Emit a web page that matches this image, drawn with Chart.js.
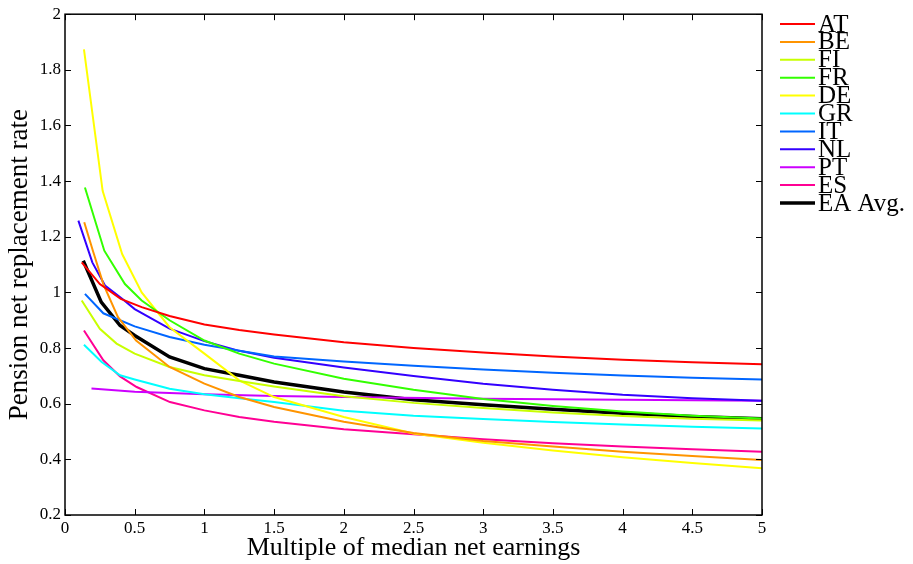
<!DOCTYPE html>
<html>
<head>
<meta charset="utf-8">
<script src="https://cdn.jsdelivr.net/npm/chart.js@4.4.1/dist/chart.umd.min.js"></script>
<style>
  html, body { margin: 0; padding: 0; background: #fff; }
  #wrap { width: 913px; height: 564px; }
</style>
</head>
<body>
<div id="wrap"><canvas id="chart" width="913" height="564"></canvas></div>
<script>
// values, [multiple of median earnings, replacement rate]
var AT = [[0.12, 1.108], [0.25, 1.03], [0.4, 0.977], [0.55, 0.947], [0.75, 0.915], [1, 0.885], [1.25, 0.865], [1.5, 0.849], [2, 0.821], [2.5, 0.80], [3, 0.784], [3.5, 0.77], [4, 0.758], [4.5, 0.749], [5, 0.742]];
var BE = [[0.138, 1.252], [0.2, 1.15], [0.275, 1.03], [0.38, 0.911], [0.51, 0.827], [0.75, 0.732], [1, 0.672], [1.25, 0.624], [1.5, 0.588], [2, 0.535], [2.5, 0.495], [3, 0.466], [3.5, 0.446], [4, 0.427], [4.5, 0.412], [5, 0.398]];
var FI = [[0.12, 0.971], [0.25, 0.869], [0.37, 0.816], [0.5, 0.78], [0.75, 0.732], [1, 0.702], [1.25, 0.682], [1.5, 0.662], [2, 0.627], [2.5, 0.603], [3, 0.585], [3.5, 0.568], [4, 0.556], [4.5, 0.546], [5, 0.54]];
var FR = [[0.143, 1.377], [0.282, 1.15], [0.43, 1.03], [0.55, 0.971], [0.75, 0.9], [1, 0.827], [1.25, 0.78], [1.5, 0.744], [2, 0.69], [2.5, 0.65], [3, 0.617], [3.5, 0.592], [4, 0.572], [4.5, 0.557], [5, 0.547]];
var DE = [[0.136, 1.874], [0.27, 1.365], [0.41, 1.138], [0.55, 1.0], [0.75, 0.875], [1, 0.78], [1.25, 0.684], [1.5, 0.624], [2, 0.552], [2.5, 0.493], [3, 0.46], [3.5, 0.432], [4, 0.408], [4.5, 0.387], [5, 0.368]];
var GR = [[0.136, 0.812], [0.263, 0.75], [0.395, 0.702], [0.5, 0.687], [0.75, 0.654], [1, 0.634], [1.25, 0.62], [1.5, 0.606], [2, 0.575], [2.5, 0.557], [3, 0.545], [3.5, 0.534], [4, 0.525], [4.5, 0.517], [5, 0.511]];
var IT = [[0.143, 0.995], [0.275, 0.925], [0.5, 0.878], [0.75, 0.84], [1, 0.812], [1.25, 0.79], [1.5, 0.77], [2, 0.752], [2.5, 0.736], [3, 0.723], [3.5, 0.711], [4, 0.701], [4.5, 0.693], [5, 0.687]];
var NL = [[0.096, 1.258], [0.196, 1.108], [0.287, 1.025], [0.41, 0.977], [0.5, 0.94], [0.75, 0.87], [1, 0.825], [1.25, 0.79], [1.5, 0.765], [2, 0.73], [2.5, 0.70], [3, 0.672], [3.5, 0.65], [4, 0.632], [4.5, 0.62], [5, 0.611]];
var PT = [[0.19, 0.655], [0.5, 0.643], [1, 0.634], [1.5, 0.628], [2, 0.624], [3, 0.618], [4, 0.614], [5, 0.611]];
var ES = [[0.136, 0.863], [0.275, 0.756], [0.395, 0.698], [0.514, 0.66], [0.753, 0.606], [1, 0.576], [1.25, 0.552], [1.5, 0.535], [2, 0.508], [2.5, 0.49], [3, 0.472], [3.5, 0.458], [4, 0.446], [4.5, 0.436], [5, 0.427]];
var EA = [[0.131, 1.114], [0.26, 0.965], [0.395, 0.881], [0.5, 0.845], [0.75, 0.768], [1, 0.726], [1.25, 0.702], [1.5, 0.678], [2, 0.642], [2.5, 0.614], [3, 0.596], [3.5, 0.58], [4, 0.566], [4.5, 0.554], [5, 0.546]];

var names = ['AT', 'BE', 'FI', 'FR', 'DE', 'GR', 'IT', 'NL', 'PT', 'ES', 'EA Avg.'];
var series = [AT, BE, FI, FR, DE, GR, IT, NL, PT, ES, EA];
var xTicks = [0, 0.5, 1, 1.5, 2, 2.5, 3, 3.5, 4, 4.5, 5];
var yTicks = [0.2, 0.4, 0.6, 0.8, 1, 1.2, 1.4, 1.6, 1.8, 2];

var colors = ['#ff0000', '#ff9400', '#c8ff00', '#33ff00', '#ffff00', '#00ffff', '#0066ff', '#3300ff', '#cc00ff', '#ff0094', '#000000'];
var FONT = '"Liberation Serif", "DejaVu Serif", serif';

function toPoints(arr) {
  return arr.map(function (p) { return { x: p[0], y: p[1] }; });
}

var datasets = series.map(function (s, i) {
  var avg = i === series.length - 1;
  return {
    label: names[i],
    data: toPoints(s),
    borderColor: colors[i],
    backgroundColor: colors[i],
    borderWidth: avg ? 3.5 : 2,
    pointRadius: 0,
    tension: 0,
    fill: false
  };
});

// frame + inward ticks on all four sides, like the matlab axes
var framePlugin = {
  id: 'frame',
  afterDraw: function (chart) {
    var ctx = chart.ctx, a = chart.chartArea;
    var xs = chart.scales.x, ys = chart.scales.y;
    var len = 6;
    ctx.save();
    ctx.strokeStyle = '#000';
    ctx.lineWidth = 1;
    ctx.beginPath();
    xTicks.forEach(function (v) {
      var px = Math.round(xs.getPixelForValue(v)) + 0.5;
      ctx.moveTo(px, a.bottom); ctx.lineTo(px, a.bottom - len);
      ctx.moveTo(px, a.top); ctx.lineTo(px, a.top + len);
    });
    yTicks.forEach(function (v) {
      var py = Math.round(ys.getPixelForValue(v)) + 0.5;
      ctx.moveTo(a.left, py); ctx.lineTo(a.left + len, py);
      ctx.moveTo(a.right, py); ctx.lineTo(a.right - len, py);
    });
    ctx.stroke();
    ctx.lineWidth = 1.5;
    ctx.strokeRect(a.left, a.top, a.right - a.left, a.bottom - a.top);
    ctx.restore();
  }
};

// legend at the right, no box
var legendPlugin = {
  id: 'sideLegend',
  afterDraw: function (chart) {
    var ctx = chart.ctx;
    var x0 = 780, y0 = 24, step = 17.9;
    ctx.save();
    ctx.font = '25px ' + FONT;
    ctx.textBaseline = 'middle';
    ctx.fillStyle = '#000';
    chart.data.datasets.forEach(function (ds, i) {
      var y = y0 + i * step;
      ctx.strokeStyle = ds.borderColor;
      ctx.lineWidth = ds.borderWidth;
      ctx.beginPath();
      ctx.moveTo(x0, y);
      ctx.lineTo(x0 + 35, y);
      ctx.stroke();
      ctx.fillText(ds.label, x0 + 38, y + 1);
    });
    ctx.restore();
  }
};

function fmt(v) { return String(Number(v.toFixed(2))); }

new Chart(document.getElementById('chart'), {
  type: 'line',
  data: { datasets: datasets },
  options: {
    responsive: false,
    animation: false,
    layout: { padding: { top: 13, right: 151, left: 0, bottom: 0 } },
    plugins: { legend: { display: false }, tooltip: { enabled: false } },
    scales: {
      x: {
        type: 'linear',
        min: 0, max: 5,
        afterBuildTicks: function (s) { s.ticks = xTicks.map(function (v) { return { value: v }; }); },
        afterFit: function (s) { s.height = 49; },
        grid: { display: false, drawTicks: false },
        border: { display: false },
        ticks: { color: '#000', font: { family: FONT, size: 17 }, padding: 3, maxRotation: 0, callback: fmt },
        title: { display: true, text: 'Multiple of median net earnings', color: '#000', font: { family: FONT, size: 26 }, padding: { top: -4, bottom: 0 } }
      },
      y: {
        type: 'linear',
        min: 0.2, max: 2,
        afterBuildTicks: function (s) { s.ticks = yTicks.map(function (v) { return { value: v }; }); },
        afterFit: function (s) { s.width = 65; },
        grid: { display: false, drawTicks: false },
        border: { display: false },
        ticks: { color: '#000', font: { family: FONT, size: 17 }, padding: 4, callback: fmt },
        title: { display: true, text: 'Pension net replacement rate', color: '#000', font: { family: FONT, size: 27 }, padding: { top: 4, bottom: 0 } }
      }
    }
  },
  plugins: [framePlugin, legendPlugin]
});
</script>
</body>
</html>
